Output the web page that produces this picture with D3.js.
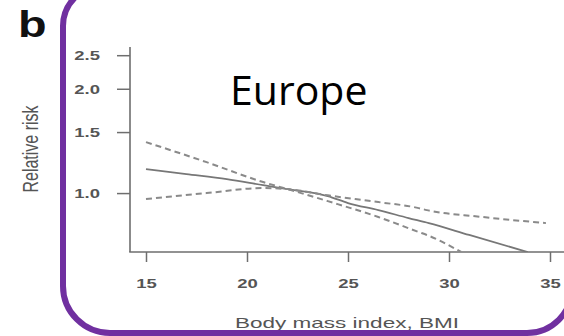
<!DOCTYPE html>
<html><head><meta charset="utf-8">
<script src="https://cdn.jsdelivr.net/npm/d3@7"></script>
<style>html,body{margin:0;padding:0;background:#fff;overflow:hidden}</style>
</head><body>
<svg id="c" width="564" height="336"></svg>
<script>
// ---- data (BMI, relative risk) ----
const bmiEstimate = [15, 17, 19, 20.8, 22, 24, 25, 26.5, 28, 29, 31, 33.9];
const rrEstimate  = [1.172, 1.134, 1.097, 1.054, 1.027, 0.98, 0.936, 0.893, 0.847, 0.819, 0.757, 0.676];
const bmiUpperCI  = [15, 18, 20.8, 22, 24, 26.5, 28.5, 28.9, 30.6];
const rrUpperCI   = [1.403, 1.228, 1.076, 1.027, 0.948, 0.853, 0.772, 0.757, 0.676];
const bmiLowerCI  = [15, 18, 20.8, 22, 24, 26.5, 28.5, 28.9, 31.5, 34.8];
const rrLowerCI   = [0.961, 1.0, 1.034, 1.027, 0.985, 0.942, 0.905, 0.893, 0.855, 0.819];
const xTicks = [15, 20, 25, 30, 35];
const yTicks = [1.0, 1.5, 2.0, 2.5];
const xTitle = "Body mass index, BMI";
const yTitle = "Relative risk";
const panelLetter = "b";
const regionLabel = "Europe";

const svg = d3.select("#c");
const STRETCH = 1.42;

const x = d3.scaleLinear().domain([15, 35]).range([146, 550]);
const y = d3.scaleLog().domain([0.676, 2.64]).range([252, 47]);
const plotLeft = 130, plotRight = 566, plotTop = 47, plotBottom = 252;

function stretch(sel, f) {
  sel.each(function(){
    const w = this.getComputedTextLength();
    d3.select(this).attr("textLength", w * (f || STRETCH)).attr("lengthAdjust", "spacingAndGlyphs");
  });
}

const axisColor = "#6e6e6e", textColor = "#555";

// axes lines
svg.append("line").attr("x1", plotLeft).attr("x2", plotLeft).attr("y1", plotTop).attr("y2", plotBottom)
  .attr("stroke", axisColor).attr("stroke-width", 1.6);
svg.append("line").attr("x1", plotLeft - 0.8).attr("x2", plotRight).attr("y1", plotBottom).attr("y2", plotBottom)
  .attr("stroke", axisColor).attr("stroke-width", 1.6);

// y axis ticks
const yAxis = svg.append("g").attr("transform", `translate(${plotLeft},0)`)
  .call(d3.axisLeft(y).tickValues(yTicks).tickFormat(d3.format(".1f")).tickSize(13).tickPadding(17).tickSizeOuter(0));
yAxis.select(".domain").remove();
yAxis.selectAll(".tick line").attr("stroke", axisColor).attr("stroke-width", 1.5);
yAxis.selectAll(".tick text").attr("fill", textColor).attr("font-family", "Liberation Sans, Arial, sans-serif")
  .attr("font-size", 13).attr("font-weight", "bold").attr("dy", "0.36em").call(stretch);

// x axis ticks
const xAxis = svg.append("g").attr("transform", `translate(0,${plotBottom})`)
  .call(d3.axisBottom(x).tickValues(xTicks).tickSize(10).tickPadding(17).tickSizeOuter(0));
xAxis.select(".domain").remove();
xAxis.selectAll(".tick line").attr("stroke", axisColor).attr("stroke-width", 1.5);
xAxis.selectAll(".tick text").attr("fill", textColor).attr("font-family", "Liberation Sans, Arial, sans-serif")
  .attr("font-size", 13).attr("font-weight", "bold").call(stretch);

// titles
svg.append("text").attr("x", 347).attr("y", 328).attr("text-anchor", "middle")
  .attr("fill", textColor).attr("font-family", "Liberation Sans, Arial, sans-serif").attr("font-size", 15)
  .text(xTitle).call(s => stretch(s, 1.5));
svg.append("g").attr("transform", "translate(38,149) rotate(-90) ")
  .append("text").attr("text-anchor", "middle").attr("fill", textColor)
  .attr("font-family", "Liberation Sans, Arial, sans-serif").attr("font-size", 16)
  .attr("transform", `scale(1,${STRETCH})`)
  .text(yTitle);

// lines
svg.append("clipPath").attr("id", "pc").append("rect")
  .attr("x", plotLeft).attr("y", plotTop - 20).attr("width", plotRight - plotLeft).attr("height", plotBottom - plotTop + 20);
const line = d3.line().x(d => x(d[0])).y(d => y(d[1])).curve(d3.curveMonotoneX);
const g = svg.append("g").attr("clip-path", "url(#pc)");
g.append("path").datum(d3.zip(bmiEstimate, rrEstimate)).attr("d", line)
  .attr("fill", "none").attr("stroke", "#777").attr("stroke-width", 1.8);
g.append("path").datum(d3.zip(bmiUpperCI, rrUpperCI)).attr("d", line)
  .attr("fill", "none").attr("stroke", "#8a8a8a").attr("stroke-width", 2).attr("stroke-dasharray", "6,4");
g.append("path").datum(d3.zip(bmiLowerCI, rrLowerCI)).attr("d", line)
  .attr("fill", "none").attr("stroke", "#8a8a8a").attr("stroke-width", 2).attr("stroke-dasharray", "6,4");

// panel letter
svg.append("text").attr("x", 18).attr("y", 37).attr("font-family", "Liberation Sans, Arial, sans-serif")
  .attr("font-weight", "bold").attr("font-size", 36).attr("fill", "#111").text(panelLetter).call(s => stretch(s, 1.3));

// region label
svg.append("text").attr("x", 230).attr("y", 105).attr("font-family", "Open Sans, Noto Sans, sans-serif")
  .attr("font-size", 41).attr("fill", "#000").text(regionLabel);

// purple frame (rounded rectangle extending past the top and right edges)
const fL = 63, fT = -14, fR = 572, fB = 333, rTL = 40, rBL = 47, rBR = 45;
const fp = d3.path();
fp.moveTo(fL + rTL, fT);
fp.lineTo(fR + 40, fT);
fp.moveTo(fR, fT - 40);
fp.lineTo(fR, fB - rBR);
fp.arcTo(fR, fB, fR - rBR, fB, rBR);
fp.lineTo(fL + rBL, fB);
fp.arcTo(fL, fB, fL, fB - rBL, rBL);
fp.lineTo(fL, fT + rTL);
fp.arcTo(fL, fT, fL + rTL, fT, rTL);
svg.append("path").attr("d", fp.toString())
  .attr("fill", "none").attr("stroke", "#7030a0").attr("stroke-width", 6);
</script>
</body></html>
